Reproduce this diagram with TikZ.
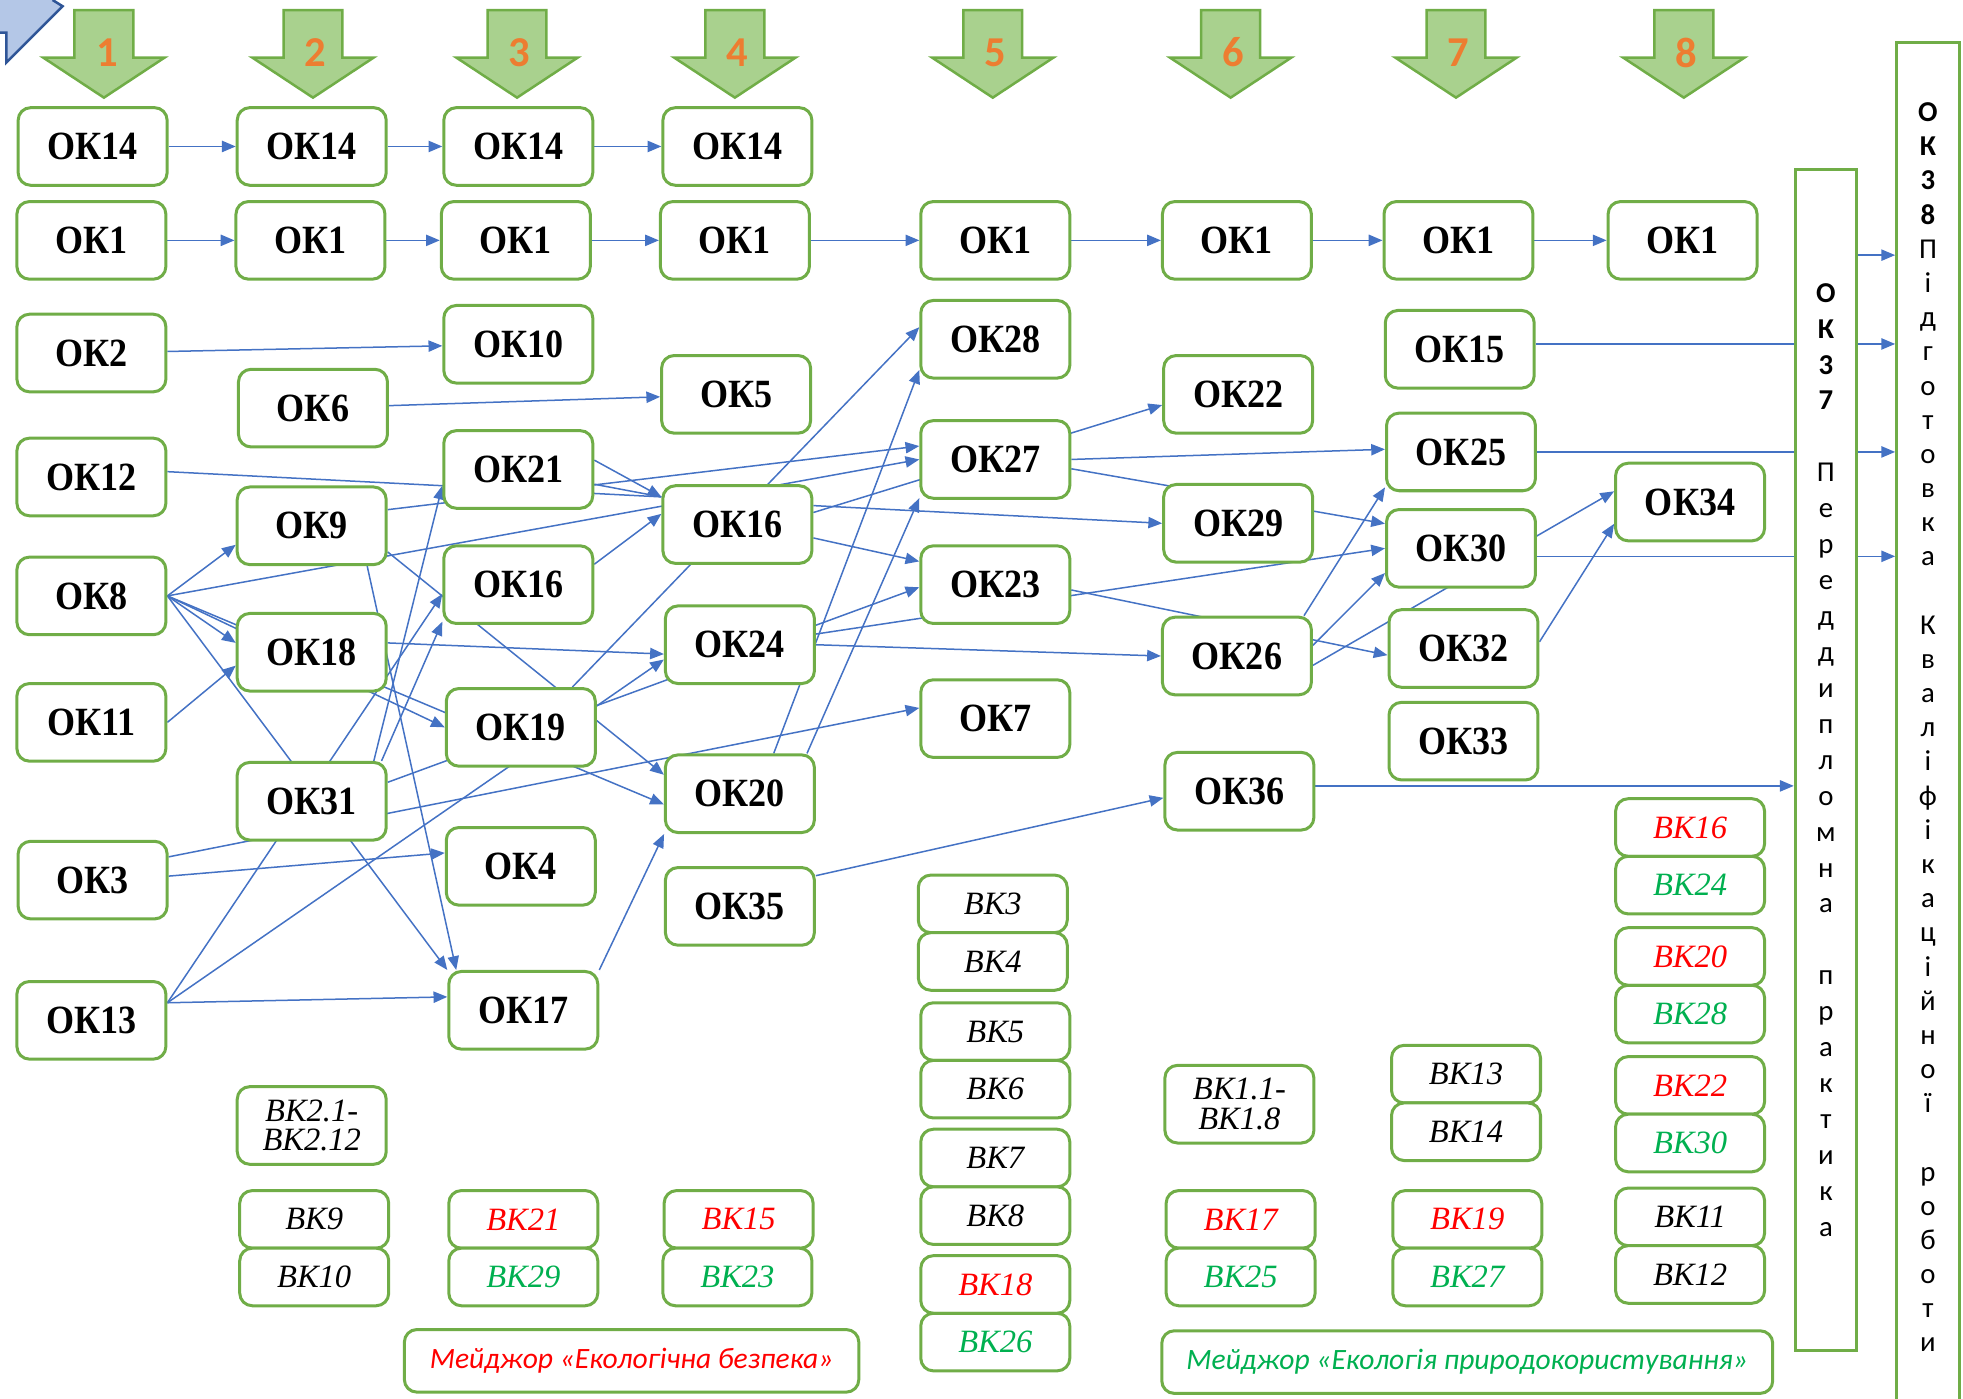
\documentclass[tikz,border=0pt]{standalone}
\usepackage{fontspec}
\setmainfont{Liberation Serif}
\newfontfamily\okfont[FakeStretch=0.9]{Liberation Serif}
\newfontfamily\calfont{Carlito}
\usetikzlibrary{arrows.meta,backgrounds}

\definecolor{boxgreen}{HTML}{70AD47}
\definecolor{arrowfill}{HTML}{A9D18E}
\definecolor{linkblue}{HTML}{4472C4}
\definecolor{numorange}{HTML}{ED7D31}
\definecolor{vkred}{HTML}{FF0000}
\definecolor{vkgreen}{HTML}{00B050}
\definecolor{cornerfill}{HTML}{B4C7E7}
\definecolor{cornerline}{HTML}{2F5597}

\tikzset{
  ok/.style={draw=boxgreen, line width=1.2pt, rounded corners=5pt, fill=white,
    minimum width=59.5pt, minimum height=31pt, inner sep=0pt,
    font=\okfont\bfseries\fontsize{16}{18}\selectfont},
  vk/.style={draw=boxgreen, line width=1.2pt, rounded corners=5pt, fill=white,
    minimum width=59.5pt, minimum height=23pt, inner sep=0pt, align=center,
    font=\itshape\fontsize{13}{11.8}\selectfont},
  major/.style={draw=boxgreen, line width=1.2pt, rounded corners=5pt, fill=white,
    minimum width=181.5pt, minimum height=25pt, inner sep=0pt,
    font=\calfont\itshape\fontsize{11.8}{14}\selectfont},
  barbox/.style={draw=boxgreen, line width=1.2pt, fill=white, inner sep=0pt, align=center},
  link/.style={linkblue, line width=0.6pt},
  conn/.style={link, -{Triangle[length=5.5pt,width=4.5pt]}},
  stepnum/.style={text=numorange, inner sep=0pt, font=\calfont\bfseries\fontsize{17}{17}\selectfont},
  bigarrow/.style={fill=arrowfill, draw=boxgreen, line width=1pt}
}

\begin{document}
\begin{tikzpicture}[x=0.5pt,y=-0.5pt]
          \useasboundingbox (0,0) rectangle (1568,1117);
          \fill[cornerfill] (0,0) -- (42,0) -- (50,5) -- (5,50) -- (5,26) -- (0,26) -- cycle;
          \draw[cornerline, line width=1pt] (0,26) -- (5,26) -- (5,50) -- (50,5) -- (42,0);

          % semesters
          \draw[bigarrow] (59.5,8) -- ++(47,0) -- ++(0,38) -- ++(25,0) -- ++(-48.5,32) -- ++(-48.5,-32) -- ++(25,0) -- cycle;
          \draw[bigarrow] (226.5,8) -- ++(47,0) -- ++(0,38) -- ++(25,0) -- ++(-48.5,32) -- ++(-48.5,-32) -- ++(25,0) -- cycle;
          \draw[bigarrow] (389.5,8) -- ++(47,0) -- ++(0,38) -- ++(25,0) -- ++(-48.5,32) -- ++(-48.5,-32) -- ++(25,0) -- cycle;
          \draw[bigarrow] (563.5,8) -- ++(47,0) -- ++(0,38) -- ++(25,0) -- ++(-48.5,32) -- ++(-48.5,-32) -- ++(25,0) -- cycle;
          \draw[bigarrow] (769.5,8) -- ++(47,0) -- ++(0,38) -- ++(25,0) -- ++(-48.5,32) -- ++(-48.5,-32) -- ++(25,0) -- cycle;
          \draw[bigarrow] (959.5,8) -- ++(47,0) -- ++(0,38) -- ++(25,0) -- ++(-48.5,32) -- ++(-48.5,-32) -- ++(25,0) -- cycle;
          \draw[bigarrow] (1139.5,8) -- ++(47,0) -- ++(0,38) -- ++(25,0) -- ++(-48.5,32) -- ++(-48.5,-32) -- ++(25,0) -- cycle;
          \draw[bigarrow] (1321.5,8) -- ++(47,0) -- ++(0,38) -- ++(25,0) -- ++(-48.5,32) -- ++(-48.5,-32) -- ++(25,0) -- cycle;
          \node[stepnum] (n1) at (86,42) {1};
          \node[stepnum] (n2) at (252,42) {2};
          \node[stepnum] (n3) at (415,42) {3};
          \node[stepnum] (n4) at (589,42) {4};
          \node[stepnum] (n5) at (795,42) {5};
          \node[stepnum] (n6) at (985,42) {6};
          \node[stepnum] (n7) at (1165,42) {7};
          \node[stepnum] (n8) at (1347,42) {8};

          % compulsory components
          \node[ok] (ok14a) at (74,117) {ОК14};
          \node[ok] (ok14b) at (249,117) {ОК14};
          \node[ok] (ok14c) at (414,117) {ОК14};
          \node[ok] (ok14d) at (589,117) {ОК14};
          \node[ok] (ok1a) at (73,192) {ОК1};
          \node[ok] (ok1b) at (248,192) {ОК1};
          \node[ok] (ok1c) at (412,192) {ОК1};
          \node[ok] (ok1d) at (587,192) {ОК1};
          \node[ok] (ok1e) at (795,192) {ОК1};
          \node[ok] (ok1f) at (988,192) {ОК1};
          \node[ok] (ok1g) at (1165,192) {ОК1};
          \node[ok] (ok1h) at (1344,192) {ОК1};
          \node[ok] (ok2) at (73,282) {ОК2};
          \node[ok] (ok12) at (73,381) {ОК12};
          \node[ok] (ok8) at (73,476) {ОК8};
          \node[ok] (ok11) at (73,577) {ОК11};
          \node[ok] (ok3) at (74,703) {ОК3};
          \node[ok] (ok13) at (73,815) {ОК13};
          \node[ok] (ok6) at (250,326) {ОК6};
          \node[ok] (ok9) at (249,420) {ОК9};
          \node[ok] (ok18) at (249,521) {ОК18};
          \node[ok] (ok31) at (249,640) {ОК31};
          \node[ok] (ok10) at (414,275) {ОК10};
          \node[ok] (ok21) at (414,375) {ОК21};
          \node[ok] (ok16c) at (414,467) {ОК16};
          \node[ok] (ok19) at (416,581) {ОК19};
          \node[ok] (ok4) at (416,692) {ОК4};
          \node[ok] (ok17) at (418,807) {ОК17};
          \node[ok] (ok5) at (588,315) {ОК5};
          \node[ok] (ok16d) at (589,419) {ОК16};
          \node[ok] (ok24) at (591,515) {ОК24};
          \node[ok] (ok20) at (591,634) {ОК20};
          \node[ok] (ok35) at (591,724) {ОК35};
          \node[ok] (ok28) at (795,271) {ОК28};
          \node[ok] (ok27) at (795,367) {ОК27};
          \node[ok] (ok23) at (795,467) {ОК23};
          \node[ok] (ok7) at (795,574) {ОК7};
          \node[ok] (ok22) at (989,315) {ОК22};
          \node[ok] (ok29) at (989,418) {ОК29};
          \node[ok] (ok26) at (988,524) {ОК26};
          \node[ok] (ok36) at (990,632) {ОК36};
          \node[ok] (ok15) at (1166,279) {ОК15};
          \node[ok] (ok25) at (1167,361) {ОК25};
          \node[ok] (ok30) at (1167,438) {ОК30};
          \node[ok] (ok32) at (1169,518) {ОК32};
          \node[ok] (ok33) at (1169,592) {ОК33};
          \node[ok] (ok34) at (1350,401) {ОК34};

          \node[barbox, minimum width=24.5pt, minimum height=472pt,
            font=\calfont\fontsize{11.5}{14.35}\selectfont] (ok37) at (1458.5,607)
            {\textbf{О}\\\textbf{К}\\\textbf{3}\\\textbf{7}\\[14.35pt]П\\е\\р\\е\\д\\д\\и\\п\\л\\о\\м\\н\\а\\[14.35pt]п\\р\\а\\к\\т\\и\\к\\а};
          \node[barbox, minimum width=25pt, minimum height=547pt,
            font=\calfont\fontsize{11.5}{13.65}\selectfont] (ok38) at (1540,581)
            {\textbf{О}\\\textbf{К}\\\textbf{3}\\\textbf{8}\\П\\і\\д\\г\\о\\т\\о\\в\\к\\а\\[13.65pt]К\\в\\а\\л\\і\\ф\\і\\к\\а\\ц\\і\\й\\н\\о\\ї\\[13.65pt]р\\о\\б\\о\\т\\и};
          \coordinate (g37) at ([yshift=-35pt]ok37.north east);

          % elective components
          \node[vk, minimum height=31pt] (vk2x) at (249,899) {ВК2.1-\\ВК2.12};
          \node[vk] (vk9) at (251,974) {ВК9};
          \node[vk] (vk10) at (251,1020) {ВК10};
          \node[vk, text=vkred] (vk21) at (418,974) {ВК21};
          \node[vk, text=vkgreen] (vk29) at (418,1020) {ВК29};
          \node[vk, text=vkred] (vk15) at (590,974) {ВК15};
          \node[vk, text=vkgreen] (vk23) at (589,1020) {ВК23};
          \node[vk] (vk3) at (793,722) {ВК3};
          \node[vk] (vk4) at (793,768) {ВК4};
          \node[vk] (vk5) at (795,824) {ВК5};
          \node[vk] (vk6) at (795,870) {ВК6};
          \node[vk] (vk7) at (795,925) {ВК7};
          \node[vk] (vk8) at (795,971) {ВК8};
          \node[vk, text=vkred] (vk18) at (795,1026) {ВК18};
          \node[vk, text=vkgreen] (vk26) at (795,1072) {ВК26};
          \node[vk, minimum height=31pt] (vk1x) at (990,882) {ВК1.1-\\ВК1.8};
          \node[vk, text=vkred] (vk17) at (991,974) {ВК17};
          \node[vk, text=vkgreen] (vk25) at (991,1020) {ВК25};
          \node[vk] (vk13) at (1171,858) {ВК13};
          \node[vk] (vk14) at (1171,904) {ВК14};
          \node[vk, text=vkred] (vk19) at (1172,974) {ВК19};
          \node[vk, text=vkgreen] (vk27) at (1172,1020) {ВК27};
          \node[vk, text=vkred] (vk16) at (1350,661) {ВК16};
          \node[vk, text=vkgreen] (vk24) at (1350,707) {ВК24};
          \node[vk, text=vkred] (vk20) at (1350,764) {ВК20};
          \node[vk, text=vkgreen] (vk28) at (1350,810) {ВК28};
          \node[vk, text=vkred] (vk22) at (1350,867) {ВК22};
          \node[vk, text=vkgreen] (vk30) at (1350,913) {ВК30};
          \node[vk] (vk11) at (1350,972) {ВК11};
          \node[vk] (vk12) at (1350,1018) {ВК12};

          \node[major, text=vkred] (mj1) at (504.5,1087) {Мейджор «Екологічна безпека»};
          \node[major, text=vkgreen, minimum width=244pt] (mj2) at (1172,1088) {Мейджор «Екологія природокористування»};

          \begin{scope}[on background layer]
          \draw[conn] (ok14a) -- (ok14b);
          \draw[conn] (ok14b) -- (ok14c);
          \draw[conn] (ok14c) -- (ok14d);
          \draw[conn] (ok1a) -- (ok1b);
          \draw[conn] (ok1b) -- (ok1c);
          \draw[conn] (ok1c) -- (ok1d);
          \draw[conn] (ok1d) -- (ok1e);
          \draw[conn] (ok1e) -- (ok1f);
          \draw[conn] (ok1f) -- (ok1g);
          \draw[conn] (ok1g) -- (ok1h);
          \draw[conn] (ok2) -- (ok10);
          \draw[conn] (ok6) -- (ok5);
          \draw[link] (ok12.4) -- (ok16d.160);
          \draw[conn] (ok8.east) -- (ok9.194);
          \draw[conn] (ok8.east) -- (ok27.west);
          \draw[conn] (ok9.12) -- (ok27.170);
          \draw[conn] (ok8.east) -- (ok18.173);
          \draw[conn] (ok8.east) -- (ok19.west);
          \draw[conn] (ok8.east) -- (ok20.188);
          \draw[conn] (ok8.east) -- (ok17.north west);
          \draw[conn] (ok11.east) -- (ok18.190);
          \draw[conn] (ok13.13) -- (ok16c.187);
          \draw[conn] (ok13.13) -- (ok24.191);
          \draw[conn] (ok13.13) -- (ok17.170);
          \draw[conn] (ok3.17) -- (ok7.172);
          \draw[conn] (ok3.3) -- (ok4.170);
          \draw[conn] (ok31.33) -- (ok21.192);
          \draw[conn] (ok31.30) -- (ok16c.206);
          \draw[conn] (ok31.14) -- (ok23.182);
          \draw[conn] (ok9.-19) -- (ok20.166);
          \draw[conn] (ok9.-36) -- (ok17.149);
          \draw[conn] (ok18.7) -- (ok24.187);
          \draw[conn] (ok16c.15) -- (ok16d.172);
          \draw[conn] (ok21.7) -- (ok16d.160);
          \draw[link] (ok21.-11) -- (ok16d.160);
          \draw[conn] (ok16d.-10) -- (ok23.163);
          \draw[conn] (ok16d.14) -- (ok29.west);
          \draw[conn] (ok16d.9) -- (ok22.188);
          \draw[conn] (ok19.38) -- (ok28.171);
          \draw[conn] (ok20.50) -- (ok28.202);
          \draw[conn] (ok20.31) -- (ok27.207);
          \draw[conn] (ok17.north east) -- (ok20.208);
          \draw[conn] (ok24.8) -- (ok30.west);
          \draw[conn] (ok24.east) -- (ok26.west);
          \draw[conn] (ok23.-4) -- (ok32.185);
          \draw[conn] (ok27.east) -- (ok25.178);
          \draw[conn] (ok27.-7) -- (ok30.162);
          \draw[conn] (ok26.31) -- (ok25.205);
          \draw[conn] (ok26.8) -- (ok30.198);
          \draw[conn] (ok26.-7) -- (ok34.172);
          \draw[conn] (ok32.5) -- (ok34.196);
          \draw[conn] (ok35.22) -- (ok36.185);
          \draw[conn] (ok36.4) -- (ok36.4 -| ok37.west);
          \draw[conn] (ok15.4) -- (ok15.4 -| ok38.west);
          \draw[conn] (ok25.east) -- (ok25.east -| ok38.west);
          \draw[conn] (ok30.-6) -- (ok30.-6 -| ok38.west);
          \draw[conn] (g37) -- (g37 -| ok38.west);
          \end{scope}
\end{tikzpicture}
\end{document}
